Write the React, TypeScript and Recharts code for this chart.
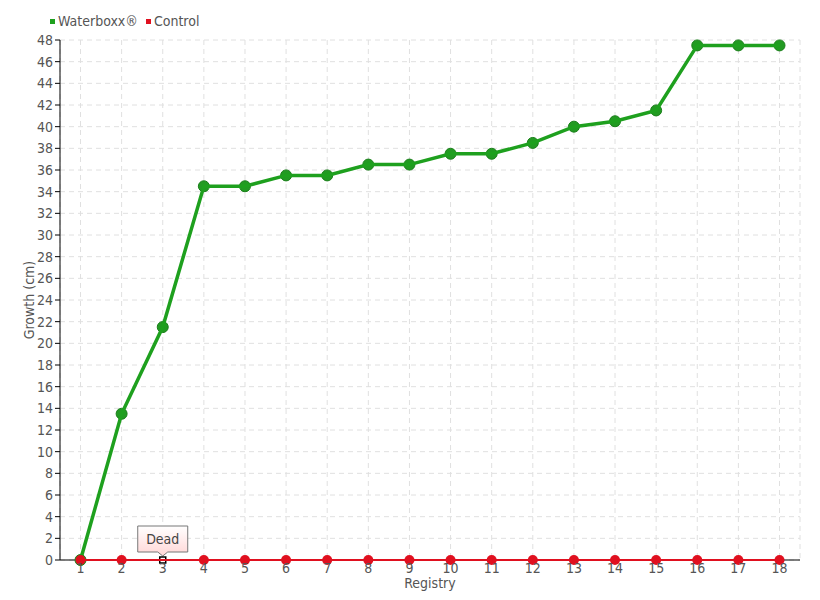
import React from 'react';
import { LineChart, Line, XAxis, YAxis, CartesianGrid } from 'recharts';

const registry = ['1', '2', '3', '4', '5', '6', '7', '8', '9', '10', '11', '12', '13', '14', '15', '16', '17', '18'];
const waterboxx = [0, 13.5, 21.5, 34.5, 34.5, 35.5, 35.5, 36.5, 36.5, 37.5, 37.5, 38.5, 40, 40.5, 41.5, 47.5, 47.5, 47.5];
const control = [0, 0, 0, 0, 0, 0, 0, 0, 0, 0, 0, 0, 0, 0, 0, 0, 0, 0];
const controlNotes = ['', '', 'Dead', '', '', '', '', '', '', '', '', '', '', '', '', '', '', ''];
const yTicks = [0, 2, 4, 6, 8, 10, 12, 14, 16, 18, 20, 22, 24, 26, 28, 30, 32, 34, 36, 38, 40, 42, 44, 46, 48];

const GREEN = '#1ea01e';
const RED = '#e0101f';
const FONT = '"DejaVu Sans", sans-serif';
const textStyle = { fontStretch: 'condensed' as const };

const data = registry.map((r, i) => ({
  name: r,
  waterboxx: waterboxx[i],
  control: control[i],
  note: controlNotes[i],
}));

// red dot, or a small square with a callout box where a note exists
const ControlDot = (props: any) => {
  const { cx, cy, payload, index } = props;
  if (payload.note) {
    return (
      <g key={`cd-${index}`}>
        <path
          d={`M${cx - 25},${cy - 34} H${cx + 25} V${cy - 8} H${cx + 5} L${cx},${cy - 4} L${cx - 5},${cy - 8} H${cx - 25} Z`}
          fill="url(#noteFill)"
          stroke="#777"
          strokeWidth={1}
        />
        <rect x={cx - 3} y={cy - 3} width={6} height={6} fill="#fff" stroke="#000" strokeWidth={1.5} />
        <text x={cx} y={cy - 16} textAnchor="middle" fontSize={14} fill="#444" fontFamily={FONT} style={textStyle}>
          {payload.note}
        </text>
      </g>
    );
  }
  return <circle key={`cd-${index}`} cx={cx} cy={cy} r={5} fill={RED} />;
};

const legendItems = [
  { name: 'Waterboxx®', color: GREEN },
  { name: 'Control', color: RED },
];

export default function App() {
  return (
    <div style={{ position: 'relative', width: 804, height: 584, fontFamily: FONT, fontStretch: 'condensed' }}>
      <div style={{ position: 'absolute', left: 42, top: 5, display: 'flex', fontSize: 14, color: '#555', zIndex: 2 }}>
        {legendItems.map((it) => (
          <span key={it.name} style={{ display: 'flex', alignItems: 'center', marginRight: 8 }}>
            <span style={{ width: 5, height: 5, background: it.color, marginRight: 3, display: 'inline-block' }} />
            {it.name}
          </span>
        ))}
      </div>
      <LineChart width={804} height={584} data={data} margin={{ top: 32, right: 12, left: 0, bottom: 2 }}>
        <defs>
          <linearGradient id="noteFill" x1="0" y1="0" x2="0" y2="1">
            <stop offset="0%" stopColor="#ffffff" />
            <stop offset="100%" stopColor="#ffd6d6" />
          </linearGradient>
        </defs>
        <CartesianGrid stroke="#e0e0e0" strokeDasharray="5 4" />
        <XAxis
          dataKey="name"
          height={30}
          padding={{ left: 20.5, right: 20.5 }}
          tickLine={false}
          axisLine={{ stroke: '#000' }}
          tick={{ fill: '#555', fontSize: 14, fontFamily: FONT, style: textStyle }}
          tickSize={1}
          interval={0}
          label={{ value: 'Registry', position: 'insideBottom', offset: 2, fill: '#555', fontSize: 14, fontFamily: FONT, style: textStyle }}
        />
        <YAxis
          width={52}
          domain={[0, 48]}
          ticks={yTicks}
          interval={0}
          axisLine={{ stroke: '#000' }}
          tickLine={{ stroke: '#000' }}
          tickSize={5}
          tickMargin={2}
          tick={{ fill: '#555', fontSize: 14, fontFamily: FONT, style: textStyle }}
          label={{ value: 'Growth (cm)', angle: -90, position: 'center', dx: -5, fill: '#555', fontSize: 14, fontFamily: FONT, style: textStyle }}
        />
        <Line
          type="linear"
          dataKey="waterboxx"
          name="Waterboxx®"
          stroke={GREEN}
          strokeWidth={3.5}
          dot={{ r: 5.5, fill: '#229a22', stroke: '#1a7f1a', strokeWidth: 1 }}
          isAnimationActive={false}
          zIndex={600}
        />
        <Line
          type="linear"
          dataKey="control"
          name="Control"
          stroke={RED}
          strokeWidth={2}
          dot={ControlDot}
          isAnimationActive={false}
          zIndex={610}
        />
      </LineChart>
    </div>
  );
}
